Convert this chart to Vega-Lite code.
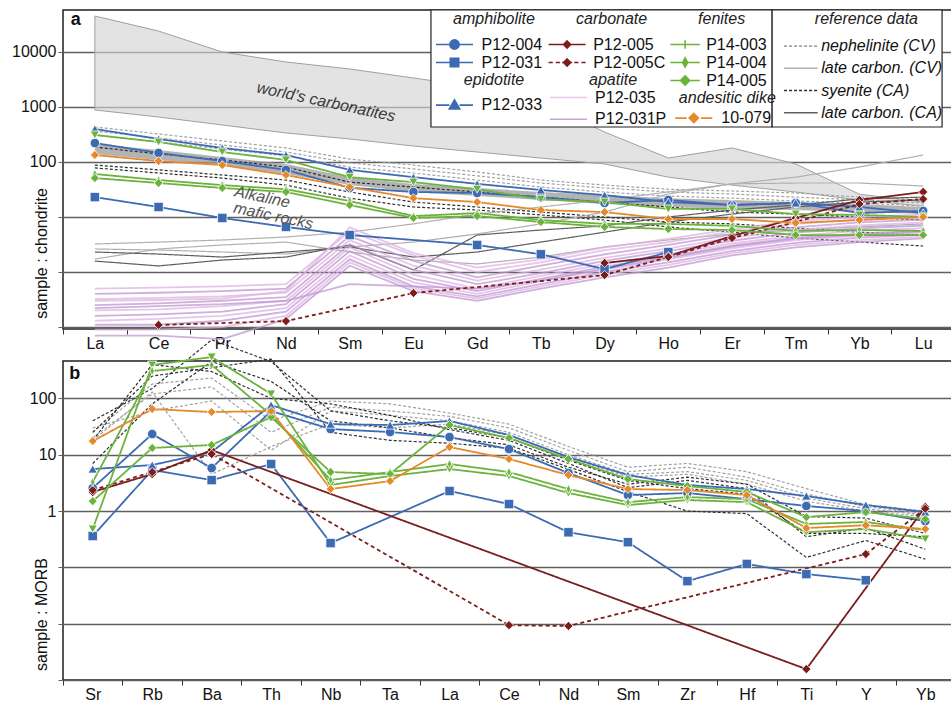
{
"$schema":"https://vega.github.io/schema/vega-lite/v6.json",
"background":"white",
"padding":{"left":10,"top":8,"right":0,"bottom":0},
"spacing":32,
"bounds":"flush",
"config":{
 "font":"Liberation Sans",
 "view":{"stroke":"#1e1e1e","strokeWidth":1.5},
 "axis":{"domain":false,"labelFont":"Liberation Sans","labelFontSize":16,"labelColor":"#111","titleFont":"Liberation Sans","titleFontSize":16,"titleFontWeight":"normal","titleColor":"#111"},
 "legend":{"labelFont":"Liberation Sans","labelFontSize":16,"labelColor":"#111","titleFont":"Liberation Sans","titleFontSize":16,"titleFontStyle":"italic","titleFontWeight":"normal","titleColor":"#222","padding":0,"orient":"none","direction":"vertical","titleAnchor":"middle","symbolSize":283,"rowPadding":0,"symbolStrokeWidth":1.6,"symbolOpacity":1}
},
"datasets":{
"carb":[{"e":"La","v":45100,"v2":882},{"e":"Ce","v":24000,"v2":658},{"e":"Pr","v":10000,"v2":471},{"e":"Nd","v":6580,"v2":337},{"e":"Sm","v":4910,"v2":262},{"e":"Eu","v":3370,"v2":195},{"e":"Gd","v":2310,"v2":152},{"e":"Tb","v":1233,"v2":118},{"e":"Dy","v":351,"v2":92},{"e":"Ho","v":118,"v2":53},{"e":"Er","v":180,"v2":38},{"e":"Tm","v":92,"v2":28.5},{"e":"Yb","v":26,"v2":20.4},{"e":"Lu","v":18.7,"v2":15.8}],
"bandA":[{"e":"La","v":212,"v2":140},{"e":"Ce","v":165,"v2":109},{"e":"Pr","v":123,"v2":88},{"e":"Nd","v":92,"v2":60.5},{"e":"Sm","v":53,"v2":38},{"e":"Eu","v":40,"v2":28.5},{"e":"Gd","v":33.7,"v2":24},{"e":"Tb","v":28.5,"v2":20.4},{"e":"Dy","v":25,"v2":17.2},{"e":"Ho","v":22,"v2":15.2},{"e":"Er","v":20.4,"v2":14},{"e":"Tm","v":18.7,"v2":13.4},{"e":"Yb","v":17.2,"v2":12.3},{"e":"Lu","v":15.2,"v2":11.3}],
"refA":[
{"s":"N1","t":"nep","e":"La","v":433},{"s":"N1","t":"nep","e":"Ce","v":323},{"s":"N1","t":"nep","e":"Pr","v":241},{"s":"N1","t":"nep","e":"Nd","v":180},{"s":"N1","t":"nep","e":"Sm","v":113},{"s":"N1","t":"nep","e":"Eu","v":88},{"s":"N1","t":"nep","e":"Gd","v":66},{"s":"N1","t":"nep","e":"Tb","v":47},{"s":"N1","t":"nep","e":"Dy","v":38},{"s":"N1","t":"nep","e":"Ho","v":32},{"s":"N1","t":"nep","e":"Er","v":29.7},{"s":"N1","t":"nep","e":"Tm","v":27.3},{"s":"N1","t":"nep","e":"Yb","v":23},{"s":"N1","t":"nep","e":"Lu","v":20.4},
{"s":"N2","t":"nep","e":"La","v":366},{"s":"N2","t":"nep","e":"Ce","v":273},{"s":"N2","t":"nep","e":"Pr","v":204},{"s":"N2","t":"nep","e":"Nd","v":152},{"s":"N2","t":"nep","e":"Sm","v":96},{"s":"N2","t":"nep","e":"Eu","v":75},{"s":"N2","t":"nep","e":"Gd","v":56},{"s":"N2","t":"nep","e":"Tb","v":41.5},{"s":"N2","t":"nep","e":"Dy","v":33.7},{"s":"N2","t":"nep","e":"Ho","v":28.5},{"s":"N2","t":"nep","e":"Er","v":26.2},{"s":"N2","t":"nep","e":"Tm","v":23},{"s":"N2","t":"nep","e":"Yb","v":20.4},{"s":"N2","t":"nep","e":"Lu","v":18},
{"s":"N3","t":"nep","e":"La","v":310},{"s":"N3","t":"nep","e":"Ce","v":231},{"s":"N3","t":"nep","e":"Pr","v":172},{"s":"N3","t":"nep","e":"Nd","v":129},{"s":"N3","t":"nep","e":"Sm","v":81},{"s":"N3","t":"nep","e":"Eu","v":63},{"s":"N3","t":"nep","e":"Gd","v":47},{"s":"N3","t":"nep","e":"Tb","v":35},{"s":"N3","t":"nep","e":"Dy","v":28.5},{"s":"N3","t":"nep","e":"Ho","v":24},{"s":"N3","t":"nep","e":"Er","v":22},{"s":"N3","t":"nep","e":"Tm","v":19.5},{"s":"N3","t":"nep","e":"Yb","v":18},{"s":"N3","t":"nep","e":"Lu","v":15.8},
{"s":"S1","t":"sye","e":"La","v":88},{"s":"S1","t":"sye","e":"Ce","v":72},{"s":"S1","t":"sye","e":"Pr","v":58},{"s":"S1","t":"sye","e":"Nd","v":47},{"s":"S1","t":"sye","e":"Sm","v":28.5},{"s":"S1","t":"sye","e":"Eu","v":18.7},{"s":"S1","t":"sye","e":"Gd","v":15.2},{"s":"S1","t":"sye","e":"Tb","v":12.3},{"s":"S1","t":"sye","e":"Dy","v":10},{"s":"S1","t":"sye","e":"Ho","v":8.1},{"s":"S1","t":"sye","e":"Er","v":7.5},{"s":"S1","t":"sye","e":"Tm","v":6.3},{"s":"S1","t":"sye","e":"Yb","v":5.3},{"s":"S1","t":"sye","e":"Lu","v":4.7},
{"s":"S2","t":"sye","e":"La","v":78},{"s":"S2","t":"sye","e":"Ce","v":63},{"s":"S2","t":"sye","e":"Pr","v":51},{"s":"S2","t":"sye","e":"Nd","v":38},{"s":"S2","t":"sye","e":"Sm","v":22},{"s":"S2","t":"sye","e":"Eu","v":15.2},{"s":"S2","t":"sye","e":"Gd","v":13.4},{"s":"S2","t":"sye","e":"Tb","v":10.9},{"s":"S2","t":"sye","e":"Dy","v":8.8},{"s":"S2","t":"sye","e":"Ho","v":6.6},{"s":"S2","t":"sye","e":"Er","v":5.3},{"s":"S2","t":"sye","e":"Tm","v":4.15},{"s":"S2","t":"sye","e":"Yb","v":3.5},{"s":"S2","t":"sye","e":"Lu","v":2.97},
{"s":"S3","t":"sye","e":"La","v":187},{"s":"S3","t":"sye","e":"Ce","v":140},{"s":"S3","t":"sye","e":"Pr","v":109},{"s":"S3","t":"sye","e":"Nd","v":81},{"s":"S3","t":"sye","e":"Sm","v":43},{"s":"S3","t":"sye","e":"Eu","v":35},{"s":"S3","t":"sye","e":"Gd","v":28.5},{"s":"S3","t":"sye","e":"Tb","v":23},{"s":"S3","t":"sye","e":"Dy","v":18.7},{"s":"S3","t":"sye","e":"Ho","v":15.2},{"s":"S3","t":"sye","e":"Er","v":12.3},{"s":"S3","t":"sye","e":"Tm","v":11.3},{"s":"S3","t":"sye","e":"Yb","v":10},{"s":"S3","t":"sye","e":"Lu","v":8.8},
{"s":"C1","t":"lcv","e":"La","v":3.23},{"s":"C1","t":"lcv","e":"Ce","v":3.5},{"s":"C1","t":"lcv","e":"Pr","v":3.82},{"s":"C1","t":"lcv","e":"Nd","v":4.33},{"s":"C1","t":"lcv","e":"Sm","v":5.3},{"s":"C1","t":"lcv","e":"Eu","v":7.5},{"s":"C1","t":"lcv","e":"Gd","v":11.3},{"s":"C1","t":"lcv","e":"Tb","v":15.2},{"s":"C1","t":"lcv","e":"Dy","v":20.4},{"s":"C1","t":"lcv","e":"Ho","v":28.5},{"s":"C1","t":"lcv","e":"Er","v":40},{"s":"C1","t":"lcv","e":"Tm","v":53},{"s":"C1","t":"lcv","e":"Yb","v":81},{"s":"C1","t":"lcv","e":"Lu","v":134},
{"s":"C2","t":"lcv","e":"La","v":2.62},{"s":"C2","t":"lcv","e":"Ce","v":2.51},{"s":"C2","t":"lcv","e":"Pr","v":2.31},{"s":"C2","t":"lcv","e":"Nd","v":2.12},{"s":"C2","t":"lcv","e":"Sm","v":2.85},{"s":"C2","t":"lcv","e":"Eu","v":3.5},{"s":"C2","t":"lcv","e":"Gd","v":4.91},{"s":"C2","t":"lcv","e":"Tb","v":7.5},{"s":"C2","t":"lcv","e":"Dy","v":12.3},{"s":"C2","t":"lcv","e":"Ho","v":26.2},{"s":"C2","t":"lcv","e":"Er","v":40},{"s":"C2","t":"lcv","e":"Tm","v":41.5},{"s":"C2","t":"lcv","e":"Yb","v":41.5},{"s":"C2","t":"lcv","e":"Lu","v":36.6},
{"s":"C3","t":"lcv","e":"La","v":1.72},{"s":"C3","t":"lcv","e":"Ce","v":2.62},{"s":"C3","t":"lcv","e":"Pr","v":3.1},{"s":"C3","t":"lcv","e":"Nd","v":3.5},{"s":"C3","t":"lcv","e":"Sm","v":2.31},{"s":"C3","t":"lcv","e":"Eu","v":1.65},{"s":"C3","t":"lcv","e":"Gd","v":1.4},{"s":"C3","t":"lcv","e":"Tb","v":1.87},{"s":"C3","t":"lcv","e":"Dy","v":2.85},{"s":"C3","t":"lcv","e":"Ho","v":3.82},{"s":"C3","t":"lcv","e":"Er","v":4.91},{"s":"C3","t":"lcv","e":"Tm","v":5.8},{"s":"C3","t":"lcv","e":"Yb","v":6.6},{"s":"C3","t":"lcv","e":"Lu","v":7.5},
{"s":"K1","t":"lca","e":"La","v":1.58},{"s":"K1","t":"lca","e":"Ce","v":1.29},{"s":"K1","t":"lca","e":"Pr","v":1.65},{"s":"K1","t":"lca","e":"Nd","v":1.87},{"s":"K1","t":"lca","e":"Sm","v":3.1},{"s":"K1","t":"lca","e":"Eu","v":1.09},{"s":"K1","t":"lca","e":"Gd","v":4.7},{"s":"K1","t":"lca","e":"Tb","v":5.8},{"s":"K1","t":"lca","e":"Dy","v":6.9},{"s":"K1","t":"lca","e":"Ho","v":10},{"s":"K1","t":"lca","e":"Er","v":13.4},{"s":"K1","t":"lca","e":"Tm","v":16.5},{"s":"K1","t":"lca","e":"Yb","v":21.3},{"s":"K1","t":"lca","e":"Lu","v":23},
{"s":"K2","t":"lca","e":"La","v":2.31},{"s":"K2","t":"lca","e":"Ce","v":2.12},{"s":"K2","t":"lca","e":"Pr","v":1.87},{"s":"K2","t":"lca","e":"Nd","v":2.31},{"s":"K2","t":"lca","e":"Sm","v":2.85},{"s":"K2","t":"lca","e":"Eu","v":1.87},{"s":"K2","t":"lca","e":"Gd","v":2.31},{"s":"K2","t":"lca","e":"Tb","v":3.5},{"s":"K2","t":"lca","e":"Dy","v":5.3},{"s":"K2","t":"lca","e":"Ho","v":8.1},{"s":"K2","t":"lca","e":"Er","v":11.3},{"s":"K2","t":"lca","e":"Tm","v":15.2},{"s":"K2","t":"lca","e":"Yb","v":18.7},{"s":"K2","t":"lca","e":"Lu","v":20.4}
],
"apa":[
{"s":"A1","t":"P12-035","e":"La","v":0.5},{"s":"A1","t":"P12-035","e":"Ce","v":0.52},{"s":"A1","t":"P12-035","e":"Pr","v":0.55},{"s":"A1","t":"P12-035","e":"Nd","v":0.6},{"s":"A1","t":"P12-035","e":"Sm","v":5.5},{"s":"A1","t":"P12-035","e":"Eu","v":2.0},{"s":"A1","t":"P12-035","e":"Gd","v":1.0},{"s":"A1","t":"P12-035","e":"Tb","v":1.5},{"s":"A1","t":"P12-035","e":"Dy","v":2.5},{"s":"A1","t":"P12-035","e":"Ho","v":3.5},{"s":"A1","t":"P12-035","e":"Er","v":5.5},{"s":"A1","t":"P12-035","e":"Tm","v":7.5},{"s":"A1","t":"P12-035","e":"Yb","v":9},{"s":"A1","t":"P12-035","e":"Lu","v":10},
{"s":"A2","t":"P12-031P","e":"La","v":0.4},{"s":"A2","t":"P12-031P","e":"Ce","v":0.42},{"s":"A2","t":"P12-031P","e":"Pr","v":0.45},{"s":"A2","t":"P12-031P","e":"Nd","v":0.5},{"s":"A2","t":"P12-031P","e":"Sm","v":4.5},{"s":"A2","t":"P12-031P","e":"Eu","v":1.6},{"s":"A2","t":"P12-031P","e":"Gd","v":0.8},{"s":"A2","t":"P12-031P","e":"Tb","v":1.3},{"s":"A2","t":"P12-031P","e":"Dy","v":2.1},{"s":"A2","t":"P12-031P","e":"Ho","v":3.1},{"s":"A2","t":"P12-031P","e":"Er","v":4.8},{"s":"A2","t":"P12-031P","e":"Tm","v":6.5},{"s":"A2","t":"P12-031P","e":"Yb","v":8},{"s":"A2","t":"P12-031P","e":"Lu","v":9},
{"s":"A3","t":"P12-035","e":"La","v":0.32},{"s":"A3","t":"P12-035","e":"Ce","v":0.34},{"s":"A3","t":"P12-035","e":"Pr","v":0.36},{"s":"A3","t":"P12-035","e":"Nd","v":0.42},{"s":"A3","t":"P12-035","e":"Sm","v":3.8},{"s":"A3","t":"P12-035","e":"Eu","v":1.3},{"s":"A3","t":"P12-035","e":"Gd","v":0.7},{"s":"A3","t":"P12-035","e":"Tb","v":1.1},{"s":"A3","t":"P12-035","e":"Dy","v":1.8},{"s":"A3","t":"P12-035","e":"Ho","v":2.7},{"s":"A3","t":"P12-035","e":"Er","v":4.2},{"s":"A3","t":"P12-035","e":"Tm","v":5.8},{"s":"A3","t":"P12-035","e":"Yb","v":7},{"s":"A3","t":"P12-035","e":"Lu","v":8},
{"s":"A4","t":"P12-031P","e":"La","v":0.25},{"s":"A4","t":"P12-031P","e":"Ce","v":0.27},{"s":"A4","t":"P12-031P","e":"Pr","v":0.3},{"s":"A4","t":"P12-031P","e":"Nd","v":0.35},{"s":"A4","t":"P12-031P","e":"Sm","v":3.2},{"s":"A4","t":"P12-031P","e":"Eu","v":1.1},{"s":"A4","t":"P12-031P","e":"Gd","v":0.6},{"s":"A4","t":"P12-031P","e":"Tb","v":0.95},{"s":"A4","t":"P12-031P","e":"Dy","v":1.6},{"s":"A4","t":"P12-031P","e":"Ho","v":2.4},{"s":"A4","t":"P12-031P","e":"Er","v":3.7},{"s":"A4","t":"P12-031P","e":"Tm","v":5.2},{"s":"A4","t":"P12-031P","e":"Yb","v":6.2},{"s":"A4","t":"P12-031P","e":"Lu","v":7},
{"s":"A5","t":"P12-035","e":"La","v":0.2},{"s":"A5","t":"P12-035","e":"Ce","v":0.21},{"s":"A5","t":"P12-035","e":"Pr","v":0.24},{"s":"A5","t":"P12-035","e":"Nd","v":0.3},{"s":"A5","t":"P12-035","e":"Sm","v":2.8},{"s":"A5","t":"P12-035","e":"Eu","v":0.9},{"s":"A5","t":"P12-035","e":"Gd","v":0.5},{"s":"A5","t":"P12-035","e":"Tb","v":0.85},{"s":"A5","t":"P12-035","e":"Dy","v":1.4},{"s":"A5","t":"P12-035","e":"Ho","v":2.1},{"s":"A5","t":"P12-035","e":"Er","v":3.3},{"s":"A5","t":"P12-035","e":"Tm","v":4.6},{"s":"A5","t":"P12-035","e":"Yb","v":5.6},{"s":"A5","t":"P12-035","e":"Lu","v":6.3},
{"s":"A6","t":"P12-031P","e":"La","v":0.16},{"s":"A6","t":"P12-031P","e":"Ce","v":0.17},{"s":"A6","t":"P12-031P","e":"Pr","v":0.19},{"s":"A6","t":"P12-031P","e":"Nd","v":0.26},{"s":"A6","t":"P12-031P","e":"Sm","v":2.4},{"s":"A6","t":"P12-031P","e":"Eu","v":0.75},{"s":"A6","t":"P12-031P","e":"Gd","v":0.45},{"s":"A6","t":"P12-031P","e":"Tb","v":0.75},{"s":"A6","t":"P12-031P","e":"Dy","v":1.25},{"s":"A6","t":"P12-031P","e":"Ho","v":1.9},{"s":"A6","t":"P12-031P","e":"Er","v":3.0},{"s":"A6","t":"P12-031P","e":"Tm","v":4.2},{"s":"A6","t":"P12-031P","e":"Yb","v":5},{"s":"A6","t":"P12-031P","e":"Lu","v":5.6},
{"s":"A7","t":"P12-035","e":"La","v":0.13},{"s":"A7","t":"P12-035","e":"Ce","v":0.14},{"s":"A7","t":"P12-035","e":"Pr","v":0.16},{"s":"A7","t":"P12-035","e":"Nd","v":0.22},{"s":"A7","t":"P12-035","e":"Sm","v":2.0},{"s":"A7","t":"P12-035","e":"Eu","v":0.65},{"s":"A7","t":"P12-035","e":"Gd","v":0.4},{"s":"A7","t":"P12-035","e":"Tb","v":0.68},{"s":"A7","t":"P12-035","e":"Dy","v":1.1},{"s":"A7","t":"P12-035","e":"Ho","v":1.7},{"s":"A7","t":"P12-035","e":"Er","v":2.7},{"s":"A7","t":"P12-035","e":"Tm","v":3.8},{"s":"A7","t":"P12-035","e":"Yb","v":4.6},{"s":"A7","t":"P12-035","e":"Lu","v":5.2},
{"s":"A8","t":"P12-031P","e":"La","v":0.11},{"s":"A8","t":"P12-031P","e":"Ce","v":0.11},{"s":"A8","t":"P12-031P","e":"Pr","v":0.13},{"s":"A8","t":"P12-031P","e":"Nd","v":0.19},{"s":"A8","t":"P12-031P","e":"Sm","v":1.7},{"s":"A8","t":"P12-031P","e":"Eu","v":0.55},{"s":"A8","t":"P12-031P","e":"Gd","v":0.36},{"s":"A8","t":"P12-031P","e":"Tb","v":0.6},{"s":"A8","t":"P12-031P","e":"Dy","v":1.0},{"s":"A8","t":"P12-031P","e":"Ho","v":1.5},{"s":"A8","t":"P12-031P","e":"Er","v":2.4},{"s":"A8","t":"P12-031P","e":"Tm","v":3.4},{"s":"A8","t":"P12-031P","e":"Yb","v":4.2},{"s":"A8","t":"P12-031P","e":"Lu","v":4.8},
{"s":"A9","t":"P12-035","e":"La","v":0.09},{"s":"A9","t":"P12-035","e":"Ce","v":0.09},{"s":"A9","t":"P12-035","e":"Pr","v":0.1},{"s":"A9","t":"P12-035","e":"Nd","v":0.16},{"s":"A9","t":"P12-035","e":"Sm","v":1.5},{"s":"A9","t":"P12-035","e":"Eu","v":0.5},{"s":"A9","t":"P12-035","e":"Gd","v":0.33},{"s":"A9","t":"P12-035","e":"Tb","v":0.55},{"s":"A9","t":"P12-035","e":"Dy","v":0.9},{"s":"A9","t":"P12-035","e":"Ho","v":1.35},{"s":"A9","t":"P12-035","e":"Er","v":2.2},{"s":"A9","t":"P12-035","e":"Tm","v":3.1},{"s":"A9","t":"P12-035","e":"Yb","v":3.8},{"s":"A9","t":"P12-035","e":"Lu","v":4.4},
{"s":"A10","t":"P12-031P","e":"La","v":0.07},{"s":"A10","t":"P12-031P","e":"Ce","v":0.07},{"s":"A10","t":"P12-031P","e":"Pr","v":0.06},{"s":"A10","t":"P12-031P","e":"Nd","v":0.14},{"s":"A10","t":"P12-031P","e":"Sm","v":1.3},{"s":"A10","t":"P12-031P","e":"Eu","v":0.45},{"s":"A10","t":"P12-031P","e":"Gd","v":0.3},{"s":"A10","t":"P12-031P","e":"Tb","v":0.5},{"s":"A10","t":"P12-031P","e":"Dy","v":0.8},{"s":"A10","t":"P12-031P","e":"Ho","v":1.2},{"s":"A10","t":"P12-031P","e":"Er","v":2.0},{"s":"A10","t":"P12-031P","e":"Tm","v":2.8},{"s":"A10","t":"P12-031P","e":"Yb","v":3.5},{"s":"A10","t":"P12-031P","e":"Lu","v":4.1},
{"s":"A11","t":"P12-035","e":"La","v":0.3},{"s":"A11","t":"P12-035","e":"Ce","v":0.31},{"s":"A11","t":"P12-035","e":"Pr","v":0.33},{"s":"A11","t":"P12-035","e":"Nd","v":0.45},{"s":"A11","t":"P12-035","e":"Sm","v":6.5},{"s":"A11","t":"P12-035","e":"Eu","v":2.2},{"s":"A11","t":"P12-035","e":"Gd","v":1.2},{"s":"A11","t":"P12-035","e":"Tb","v":1.7},{"s":"A11","t":"P12-035","e":"Dy","v":2.8},{"s":"A11","t":"P12-035","e":"Ho","v":4},{"s":"A11","t":"P12-035","e":"Er","v":6},{"s":"A11","t":"P12-035","e":"Tm","v":8.5},{"s":"A11","t":"P12-035","e":"Yb","v":10},{"s":"A11","t":"P12-035","e":"Lu","v":11},
{"s":"A12","t":"P12-031P","e":"La","v":0.22},{"s":"A12","t":"P12-031P","e":"Ce","v":0.24},{"s":"A12","t":"P12-031P","e":"Pr","v":0.26},{"s":"A12","t":"P12-031P","e":"Nd","v":0.3},{"s":"A12","t":"P12-031P","e":"Sm","v":0.6},{"s":"A12","t":"P12-031P","e":"Eu","v":0.55},{"s":"A12","t":"P12-031P","e":"Gd","v":0.5},{"s":"A12","t":"P12-031P","e":"Tb","v":0.7},{"s":"A12","t":"P12-031P","e":"Dy","v":1.15},{"s":"A12","t":"P12-031P","e":"Ho","v":1.8},{"s":"A12","t":"P12-031P","e":"Er","v":2.9},{"s":"A12","t":"P12-031P","e":"Tm","v":4.0},{"s":"A12","t":"P12-031P","e":"Yb","v":4.8},{"s":"A12","t":"P12-031P","e":"Lu","v":5.5}
],
"smpA":[
{"s":"P12-004","e":"La","v":221},{"s":"P12-004","e":"Ce","v":146},{"s":"P12-004","e":"Pr","v":104},{"s":"P12-004","e":"Nd","v":72},{"s":"P12-004","e":"Sm","v":34},{"s":"P12-004","e":"Eu","v":28.5},{"s":"P12-004","e":"Gd","v":27.3},{"s":"P12-004","e":"Tb","v":23},{"s":"P12-004","e":"Dy","v":18},{"s":"P12-004","e":"Ho","v":20.4},{"s":"P12-004","e":"Er","v":16.5},{"s":"P12-004","e":"Tm","v":18},{"s":"P12-004","e":"Yb","v":11.8},{"s":"P12-004","e":"Lu","v":12.9},
{"s":"P12-031","e":"La","v":23},{"s":"P12-031","e":"Ce","v":15.2},{"s":"P12-031","e":"Pr","v":9.6},{"s":"P12-031","e":"Nd","v":6.6},{"s":"P12-031","e":"Sm","v":4.7},{"s":"P12-031","e":"Gd","v":3.1},{"s":"P12-031","e":"Tb","v":2.1},{"s":"P12-031","e":"Dy","v":1.13},{"s":"P12-031","e":"Ho","v":2.3},
{"s":"P12-033","e":"La","v":398},{"s":"P12-033","e":"Ce","v":262},{"s":"P12-033","e":"Pr","v":180},{"s":"P12-033","e":"Nd","v":134},{"s":"P12-033","e":"Sm","v":72},{"s":"P12-033","e":"Eu","v":53},{"s":"P12-033","e":"Gd","v":40},{"s":"P12-033","e":"Tb","v":31},{"s":"P12-033","e":"Dy","v":25},{"s":"P12-033","e":"Ho","v":18.7},{"s":"P12-033","e":"Er","v":16.5},{"s":"P12-033","e":"Tm","v":18},{"s":"P12-033","e":"Yb","v":15.2},{"s":"P12-033","e":"Lu","v":11.8},
{"s":"P12-005","e":"Dy","v":1.46},{"s":"P12-005","e":"Ho","v":1.95},{"s":"P12-005","e":"Er","v":4.5},{"s":"P12-005","e":"Tm","v":9.6},{"s":"P12-005","e":"Yb","v":20.4},{"s":"P12-005","e":"Lu","v":28.5},
{"s":"P12-005C","e":"Ce","v":0.109},{"s":"P12-005C","e":"Nd","v":0.128},{"s":"P12-005C","e":"Eu","v":0.415},{"s":"P12-005C","e":"Dy","v":0.88},{"s":"P12-005C","e":"Ho","v":1.87},{"s":"P12-005C","e":"Er","v":4.15},{"s":"P12-005C","e":"Tm","v":8.1},{"s":"P12-005C","e":"Yb","v":17.2},{"s":"P12-005C","e":"Lu","v":21.2},
{"s":"P14-003","e":"La","v":310},{"s":"P14-003","e":"Ce","v":231},{"s":"P14-003","e":"Pr","v":152},{"s":"P14-003","e":"Nd","v":109},{"s":"P14-003","e":"Sm","v":53},{"s":"P14-003","e":"Eu","v":43},{"s":"P14-003","e":"Gd","v":32},{"s":"P14-003","e":"Tb","v":21},{"s":"P14-003","e":"Dy","v":18.7},{"s":"P14-003","e":"Ho","v":14},{"s":"P14-003","e":"Er","v":14},{"s":"P14-003","e":"Tm","v":11.3},{"s":"P14-003","e":"Yb","v":10.9},{"s":"P14-003","e":"Lu","v":10},
{"s":"P14-004","e":"La","v":60.5},{"s":"P14-004","e":"Ce","v":47},{"s":"P14-004","e":"Pr","v":38},{"s":"P14-004","e":"Nd","v":32},{"s":"P14-004","e":"Sm","v":19.5},{"s":"P14-004","e":"Eu","v":10.4},{"s":"P14-004","e":"Gd","v":11.8},{"s":"P14-004","e":"Tb","v":8.8},{"s":"P14-004","e":"Dy","v":7.5},{"s":"P14-004","e":"Ho","v":7.5},{"s":"P14-004","e":"Er","v":6.9},{"s":"P14-004","e":"Tm","v":5.6},{"s":"P14-004","e":"Yb","v":5.8},{"s":"P14-004","e":"Lu","v":5.6},
{"s":"P14-005","e":"La","v":51},{"s":"P14-005","e":"Ce","v":41.5},{"s":"P14-005","e":"Pr","v":33.7},{"s":"P14-005","e":"Nd","v":28.5},{"s":"P14-005","e":"Sm","v":16.5},{"s":"P14-005","e":"Eu","v":9.6},{"s":"P14-005","e":"Gd","v":10.4},{"s":"P14-005","e":"Tb","v":8.1},{"s":"P14-005","e":"Dy","v":6.6},{"s":"P14-005","e":"Ho","v":6.05},{"s":"P14-005","e":"Er","v":5.8},{"s":"P14-005","e":"Tm","v":4.7},{"s":"P14-005","e":"Yb","v":4.7},{"s":"P14-005","e":"Lu","v":4.7},
{"s":"10-079","e":"La","v":134},{"s":"10-079","e":"Ce","v":104},{"s":"10-079","e":"Pr","v":88},{"s":"10-079","e":"Nd","v":58},{"s":"10-079","e":"Sm","v":35},{"s":"10-079","e":"Eu","v":22},{"s":"10-079","e":"Gd","v":18.7},{"s":"10-079","e":"Tb","v":13.4},{"s":"10-079","e":"Dy","v":12.3},{"s":"10-079","e":"Ho","v":9.2},{"s":"10-079","e":"Er","v":9.2},{"s":"10-079","e":"Tm","v":7.8},{"s":"10-079","e":"Yb","v":8.8},{"s":"10-079","e":"Lu","v":10}
],
"refB":[
{"s":"NB1","t":"nep","e":"Sr","v":25},{"s":"NB1","t":"nep","e":"Rb","v":180},{"s":"NB1","t":"nep","e":"Ba","v":230},{"s":"NB1","t":"nep","e":"Th","v":40},{"s":"NB1","t":"nep","e":"Nb","v":90},{"s":"NB1","t":"nep","e":"Ta","v":80},{"s":"NB1","t":"nep","e":"La","v":55},{"s":"NB1","t":"nep","e":"Ce","v":35},{"s":"NB1","t":"nep","e":"Nd","v":14},{"s":"NB1","t":"nep","e":"Sm","v":6},{"s":"NB1","t":"nep","e":"Zr","v":7},{"s":"NB1","t":"nep","e":"Hf","v":5},{"s":"NB1","t":"nep","e":"Ti","v":2.5},{"s":"NB1","t":"nep","e":"Y","v":1.3},{"s":"NB1","t":"nep","e":"Yb","v":1.0},
{"s":"NB2","t":"nep","e":"Sr","v":20},{"s":"NB2","t":"nep","e":"Rb","v":120},{"s":"NB2","t":"nep","e":"Ba","v":160},{"s":"NB2","t":"nep","e":"Th","v":25},{"s":"NB2","t":"nep","e":"Nb","v":70},{"s":"NB2","t":"nep","e":"Ta","v":60},{"s":"NB2","t":"nep","e":"La","v":48},{"s":"NB2","t":"nep","e":"Ce","v":30},{"s":"NB2","t":"nep","e":"Nd","v":12},{"s":"NB2","t":"nep","e":"Sm","v":5},{"s":"NB2","t":"nep","e":"Zr","v":6},{"s":"NB2","t":"nep","e":"Hf","v":4},{"s":"NB2","t":"nep","e":"Ti","v":2.0},{"s":"NB2","t":"nep","e":"Y","v":1.2},{"s":"NB2","t":"nep","e":"Yb","v":0.9},
{"s":"NB3","t":"nep","e":"Sr","v":30},{"s":"NB3","t":"nep","e":"Rb","v":60},{"s":"NB3","t":"nep","e":"Ba","v":90},{"s":"NB3","t":"nep","e":"Th","v":12},{"s":"NB3","t":"nep","e":"Nb","v":60},{"s":"NB3","t":"nep","e":"Ta","v":50},{"s":"NB3","t":"nep","e":"La","v":40},{"s":"NB3","t":"nep","e":"Ce","v":25},{"s":"NB3","t":"nep","e":"Nd","v":10},{"s":"NB3","t":"nep","e":"Sm","v":4.5},{"s":"NB3","t":"nep","e":"Zr","v":5},{"s":"NB3","t":"nep","e":"Hf","v":3.5},{"s":"NB3","t":"nep","e":"Ti","v":1.7},{"s":"NB3","t":"nep","e":"Y","v":1.1},{"s":"NB3","t":"nep","e":"Yb","v":0.85},
{"s":"NB4","t":"nep","e":"Sr","v":18},{"s":"NB4","t":"nep","e":"Rb","v":130},{"s":"NB4","t":"nep","e":"Ba","v":4.5},{"s":"NB4","t":"nep","e":"Th","v":14},{"s":"NB4","t":"nep","e":"Nb","v":35},{"s":"NB4","t":"nep","e":"Ta","v":30},{"s":"NB4","t":"nep","e":"La","v":35},{"s":"NB4","t":"nep","e":"Ce","v":22},{"s":"NB4","t":"nep","e":"Nd","v":9},{"s":"NB4","t":"nep","e":"Sm","v":4},{"s":"NB4","t":"nep","e":"Zr","v":4.5},{"s":"NB4","t":"nep","e":"Hf","v":3},{"s":"NB4","t":"nep","e":"Ti","v":1.5},{"s":"NB4","t":"nep","e":"Y","v":1.0},{"s":"NB4","t":"nep","e":"Yb","v":0.8},
{"s":"SB1","t":"sye","e":"Sr","v":40},{"s":"SB1","t":"sye","e":"Rb","v":150},{"s":"SB1","t":"sye","e":"Ba","v":1100},{"s":"SB1","t":"sye","e":"Th","v":450},{"s":"SB1","t":"sye","e":"Nb","v":60},{"s":"SB1","t":"sye","e":"Ta","v":40},{"s":"SB1","t":"sye","e":"La","v":30},{"s":"SB1","t":"sye","e":"Ce","v":20},{"s":"SB1","t":"sye","e":"Nd","v":8},{"s":"SB1","t":"sye","e":"Sm","v":3.5},{"s":"SB1","t":"sye","e":"Zr","v":2.5},{"s":"SB1","t":"sye","e":"Hf","v":2},{"s":"SB1","t":"sye","e":"Ti","v":0.4},{"s":"SB1","t":"sye","e":"Y","v":0.4},{"s":"SB1","t":"sye","e":"Yb","v":0.35},
{"s":"SB2","t":"sye","e":"Sr","v":25},{"s":"SB2","t":"sye","e":"Rb","v":250},{"s":"SB2","t":"sye","e":"Ba","v":350},{"s":"SB2","t":"sye","e":"Th","v":500},{"s":"SB2","t":"sye","e":"Nb","v":25},{"s":"SB2","t":"sye","e":"Ta","v":18},{"s":"SB2","t":"sye","e":"La","v":16},{"s":"SB2","t":"sye","e":"Ce","v":13},{"s":"SB2","t":"sye","e":"Nd","v":5.5},{"s":"SB2","t":"sye","e":"Sm","v":2.2},{"s":"SB2","t":"sye","e":"Zr","v":1.0},{"s":"SB2","t":"sye","e":"Hf","v":0.9},{"s":"SB2","t":"sye","e":"Ti","v":0.15},{"s":"SB2","t":"sye","e":"Y","v":0.3},{"s":"SB2","t":"sye","e":"Yb","v":0.14},
{"s":"SB3","t":"sye","e":"Sr","v":7},{"s":"SB3","t":"sye","e":"Rb","v":80},{"s":"SB3","t":"sye","e":"Ba","v":450},{"s":"SB3","t":"sye","e":"Th","v":200},{"s":"SB3","t":"sye","e":"Nb","v":40},{"s":"SB3","t":"sye","e":"Ta","v":30},{"s":"SB3","t":"sye","e":"La","v":20},{"s":"SB3","t":"sye","e":"Ce","v":15},{"s":"SB3","t":"sye","e":"Nd","v":6},{"s":"SB3","t":"sye","e":"Sm","v":3},{"s":"SB3","t":"sye","e":"Zr","v":4},{"s":"SB3","t":"sye","e":"Hf","v":3},{"s":"SB3","t":"sye","e":"Ti","v":0.8},{"s":"SB3","t":"sye","e":"Y","v":0.75},{"s":"SB3","t":"sye","e":"Yb","v":0.4},
{"s":"SB4","t":"sye","e":"Sr","v":18},{"s":"SB4","t":"sye","e":"Rb","v":400},{"s":"SB4","t":"sye","e":"Ba","v":300},{"s":"SB4","t":"sye","e":"Th","v":100},{"s":"SB4","t":"sye","e":"Nb","v":80},{"s":"SB4","t":"sye","e":"Ta","v":50},{"s":"SB4","t":"sye","e":"La","v":28},{"s":"SB4","t":"sye","e":"Ce","v":18},{"s":"SB4","t":"sye","e":"Nd","v":7},{"s":"SB4","t":"sye","e":"Sm","v":2.6},{"s":"SB4","t":"sye","e":"Zr","v":3.5},{"s":"SB4","t":"sye","e":"Hf","v":2.5},{"s":"SB4","t":"sye","e":"Ti","v":0.35},{"s":"SB4","t":"sye","e":"Y","v":0.5},{"s":"SB4","t":"sye","e":"Yb","v":0.21}
],
"smpB":[
{"s":"P12-004","e":"Sr","v":2.56},{"s":"P12-004","e":"Rb","v":23.3},{"s":"P12-004","e":"Ba","v":5.8},{"s":"P12-004","e":"Th","v":59.7},{"s":"P12-004","e":"Nb","v":28.6},{"s":"P12-004","e":"Ta","v":25.3},{"s":"P12-004","e":"La","v":20.6},{"s":"P12-004","e":"Ce","v":12.6},{"s":"P12-004","e":"Nd","v":4.73},{"s":"P12-004","e":"Sm","v":1.92},{"s":"P12-004","e":"Zr","v":2.09},{"s":"P12-004","e":"Hf","v":1.63},{"s":"P12-004","e":"Ti","v":1.23},{"s":"P12-004","e":"Y","v":1.0},{"s":"P12-004","e":"Yb","v":0.66},
{"s":"P12-031","e":"Sr","v":0.36},{"s":"P12-031","e":"Rb","v":5.35},{"s":"P12-031","e":"Ba","v":3.55},{"s":"P12-031","e":"Th","v":6.84},{"s":"P12-031","e":"Nb","v":0.27},{"s":"P12-031","e":"La","v":2.27},{"s":"P12-031","e":"Ce","v":1.33},{"s":"P12-031","e":"Nd","v":0.42},{"s":"P12-031","e":"Sm","v":0.28},{"s":"P12-031","e":"Zr","v":0.057},{"s":"P12-031","e":"Hf","v":0.115},{"s":"P12-031","e":"Ti","v":0.076},{"s":"P12-031","e":"Y","v":0.059},
{"s":"P12-033","e":"Sr","v":5.57},{"s":"P12-033","e":"Rb","v":6.56},{"s":"P12-033","e":"Ba","v":11.2},{"s":"P12-033","e":"Th","v":76},{"s":"P12-033","e":"Nb","v":35},{"s":"P12-033","e":"Ta","v":33.7},{"s":"P12-033","e":"La","v":39.7},{"s":"P12-033","e":"Ce","v":22.4},{"s":"P12-033","e":"Nd","v":9.1},{"s":"P12-033","e":"Sm","v":4.36},{"s":"P12-033","e":"Zr","v":2.9},{"s":"P12-033","e":"Hf","v":2.46},{"s":"P12-033","e":"Ti","v":1.85},{"s":"P12-033","e":"Y","v":1.28},{"s":"P12-033","e":"Yb","v":0.96},
{"s":"P12-005","e":"Sr","v":2.18},{"s":"P12-005","e":"Rb","v":4.54},{"s":"P12-005","e":"Ba","v":12.1},{"s":"P12-005","e":"Ti","v":0.00156},{"s":"P12-005","e":"Yb","v":1.18},
{"s":"P12-005C","e":"Sr","v":2.36},{"s":"P12-005C","e":"Rb","v":4.93},{"s":"P12-005C","e":"Ba","v":10.3},{"s":"P12-005C","e":"Ce","v":0.0094},{"s":"P12-005C","e":"Nd","v":0.0091},{"s":"P12-005C","e":"Y","v":0.172},{"s":"P12-005C","e":"Yb","v":1.1},
{"s":"P14-003","e":"Sr","v":0.48},{"s":"P14-003","e":"Rb","v":392},{"s":"P14-003","e":"Ba","v":543},{"s":"P14-003","e":"Th","v":120},{"s":"P14-003","e":"Nb","v":2.9},{"s":"P14-003","e":"Ta","v":4.19},{"s":"P14-003","e":"La","v":5.57},{"s":"P14-003","e":"Ce","v":4.19},{"s":"P14-003","e":"Nd","v":2.09},{"s":"P14-003","e":"Sm","v":1.28},{"s":"P14-003","e":"Zr","v":1.57},{"s":"P14-003","e":"Hf","v":1.44},{"s":"P14-003","e":"Ti","v":0.42},{"s":"P14-003","e":"Y","v":0.48},{"s":"P14-003","e":"Yb","v":0.32},
{"s":"P14-004","e":"Sr","v":3.27},{"s":"P14-004","e":"Rb","v":307},{"s":"P14-004","e":"Ba","v":392},{"s":"P14-004","e":"Th","v":50.7},{"s":"P14-004","e":"Nb","v":3.55},{"s":"P14-004","e":"Ta","v":4.93},{"s":"P14-004","e":"La","v":6.84},{"s":"P14-004","e":"Ce","v":4.93},{"s":"P14-004","e":"Nd","v":2.46},{"s":"P14-004","e":"Sm","v":1.44},{"s":"P14-004","e":"Zr","v":1.77},{"s":"P14-004","e":"Hf","v":1.63},{"s":"P14-004","e":"Ti","v":0.59},{"s":"P14-004","e":"Y","v":0.64},{"s":"P14-004","e":"Yb","v":0.46},
{"s":"P14-005","e":"Sr","v":1.5},{"s":"P14-005","e":"Rb","v":13.2},{"s":"P14-005","e":"Ba","v":14.9},{"s":"P14-005","e":"Th","v":46.7},{"s":"P14-005","e":"Nb","v":4.93},{"s":"P14-005","e":"Ta","v":4.54},{"s":"P14-005","e":"La","v":33.7},{"s":"P14-005","e":"Ce","v":19.8},{"s":"P14-005","e":"Nd","v":8.4},{"s":"P14-005","e":"Sm","v":3.7},{"s":"P14-005","e":"Zr","v":2.78},{"s":"P14-005","e":"Hf","v":2.18},{"s":"P14-005","e":"Ti","v":0.78},{"s":"P14-005","e":"Y","v":0.96},{"s":"P14-005","e":"Yb","v":0.72},
{"s":"10-079","e":"Sr","v":17.5},{"s":"10-079","e":"Rb","v":64.8},{"s":"10-079","e":"Ba","v":57.3},{"s":"10-079","e":"Th","v":59.7},{"s":"10-079","e":"Nb","v":2.46},{"s":"10-079","e":"Ta","v":3.41},{"s":"10-079","e":"La","v":13.7},{"s":"10-079","e":"Ce","v":8.4},{"s":"10-079","e":"Nd","v":4.36},{"s":"10-079","e":"Sm","v":2.46},{"s":"10-079","e":"Zr","v":2.36},{"s":"10-079","e":"Hf","v":1.92},{"s":"10-079","e":"Ti","v":0.5},{"s":"10-079","e":"Y","v":0.56},{"s":"10-079","e":"Yb","v":0.48}
]
},
"vconcat":[
{
"width":892,"height":319,
"layer":[
 {"data":{"name":"carb"},"mark":{"type":"area","fill":"#d4d4d4","fillOpacity":0.65,"stroke":"#a0a0a0","strokeWidth":1},"encoding":{
   "x":{"field":"e","type":"nominal","sort":["La","Ce","Pr","Nd","Sm","Eu","Gd","Tb","Dy","Ho","Er","Tm","Yb","Lu"],"scale":{"type":"band","paddingInner":0,"paddingOuter":0},"title":null,"axis":{"title":null,"labelAngle":0,"tickBand":"extent","tickSize":5,"tickColor":"#333","labelPadding":1,"grid":false}},
   "y":{"field":"v","type":"quantitative","scale":{"type":"log","domain":[0.092,58000],"nice":false},"title":"sample : chondrite","axis":{"title":"sample : chondrite","values":[0.1,1,10,100,1000,10000],"labelExpr":"datum.value >= 100 ? format(datum.value, 'd') : ''","grid":true,"gridColor":"#606060","gridWidth":1.3,"tickSize":5,"tickColor":"#606060","labelPadding":2,"titleX":-14,"titleY":243}},
   "y2":{"field":"v2"}}},
 {"data":{"name":"bandA"},"mark":{"type":"area","fill":"#9a9a9a","fillOpacity":0.75},"encoding":{
   "x":{"field":"e","type":"nominal","sort":["La","Ce","Pr","Nd","Sm","Eu","Gd","Tb","Dy","Ho","Er","Tm","Yb","Lu"],"title":null},
   "y":{"field":"v","type":"quantitative","title":"sample : chondrite"},
   "y2":{"field":"v2"}}},
 {"data":{"name":"refA"},"mark":{"type":"line","strokeWidth":1.2},"encoding":{
   "x":{"field":"e","type":"nominal","sort":["La","Ce","Pr","Nd","Sm","Eu","Gd","Tb","Dy","Ho","Er","Tm","Yb","Lu"],"title":null},
   "y":{"field":"v","type":"quantitative","title":"sample : chondrite"},
   "detail":{"field":"s"},"color":{"field":"t","type":"nominal","scale":{"domain":["nep","lcv","sye","lca"],"range":["#a3a3a3","#b0b0b0","#2e2e2e","#5e5e5e"]},"legend":null},"strokeDash":{"field":"t","type":"nominal","scale":{"domain":["nep","lcv","sye","lca"],"range":[[3,2],[1,0],[3,2],[1,0]]},"legend":null}}},
 {"data":{"name":"apa"},"mark":{"type":"line","strokeWidth":1.8,"opacity":0.75},"encoding":{
   "x":{"field":"e","type":"nominal","sort":["La","Ce","Pr","Nd","Sm","Eu","Gd","Tb","Dy","Ho","Er","Tm","Yb","Lu"],"title":null},
   "y":{"field":"v","type":"quantitative","title":"sample : chondrite"},
   "detail":{"field":"s"},"color":{"field":"t","type":"nominal","scale":{"domain":["P12-035","P12-031P"],"range":["#dfb2e3","#bf95d1"]},"legend":null}}},
 {"data":{"name":"smpA"},"mark":{"type":"line","strokeWidth":1.8},"encoding":{
   "x":{"field":"e","type":"nominal","sort":["La","Ce","Pr","Nd","Sm","Eu","Gd","Tb","Dy","Ho","Er","Tm","Yb","Lu"],"title":null},
   "y":{"field":"v","type":"quantitative","title":"sample : chondrite"},
   "color":{"field":"s","type":"nominal","scale":{"domain":["P12-004","P12-031","P12-033","P12-005","P12-005C","P14-003","P14-004","P14-005","10-079"],"range":["#3c6bb3","#3c6bb3","#3c6bb3","#7b1d1d","#7b1d1d","#6cb33e","#6cb33e","#6cb33e","#e5892b"]},"legend":null},"strokeDash":{"field":"s","type":"nominal","scale":{"domain":["P12-004","P12-031","P12-033","P12-005","P12-005C","P14-003","P14-004","P14-005","10-079"],"range":[[1,0],[1,0],[1,0],[1,0],[4,3],[1,0],[1,0],[1,0],[1,0]]},"legend":null}}},
 {"data":{"name":"smpA"},"mark":{"type":"point","filled":true,"opacity":1,"stroke":"white","strokeWidth":0.8},"encoding":{
   "x":{"field":"e","type":"nominal","sort":["La","Ce","Pr","Nd","Sm","Eu","Gd","Tb","Dy","Ho","Er","Tm","Yb","Lu"],"title":null},
   "y":{"field":"v","type":"quantitative","title":"sample : chondrite"},
   "color":{"field":"s","type":"nominal","scale":{"domain":["P12-004","P12-031","P12-033","P12-005","P12-005C","P14-003","P14-004","P14-005","10-079"],"range":["#3c6bb3","#3c6bb3","#3c6bb3","#7b1d1d","#7b1d1d","#6cb33e","#6cb33e","#6cb33e","#e5892b"]},"legend":null},"shape":{"field":"s","type":"nominal","scale":{"domain":["P12-004","P12-031","P12-033","P12-005","P12-005C","P14-003","P14-004","P14-005","10-079"],"range":["circle","square","triangle-up","diamond","diamond","triangle-down","M0,-1L0.5,0L0,1L-0.5,0Z","diamond","diamond"]},"legend":null},"size":{"field":"s","type":"nominal","scale":{"domain":["P12-004","P12-031","P12-033","P12-005","P12-005C","P14-003","P14-004","P14-005","10-079"],"range":[90,80,110,40,40,55,70,90,110]},"legend":null}}},
 {"data":{"values":[{}]},"mark":{"type":"rect","fill":"white","stroke":"#222","strokeWidth":1.2},"encoding":{"x":{"datum":"Eu","bandPosition":0.775},"x2":{"datum":"Tm","bandPosition":0.13},"y":{"datum":58000},"y2":{"datum":433}}},
 {"data":{"values":[{}]},"mark":{"type":"rect","fill":"white","stroke":"#222","strokeWidth":1.2},"encoding":{"x":{"datum":"Tm","bandPosition":0.13},"x2":{"datum":"Lu","bandPosition":0.797},"y":{"datum":58000},"y2":{"datum":433}}},
 {"data":{"values":[{}]},"mark":{"type":"text","text":"world’s carbonatites","angle":12,"fontSize":16,"fontStyle":"italic","color":"#3a3a3a","xOffset":40},"encoding":{"x":{"datum":"Nd"},"y":{"datum":1230}}},
 {"data":{"values":[{}]},"mark":{"type":"text","text":"Alkaline","angle":12,"fontSize":16,"fontStyle":"italic","color":"#555","xOffset":40},"encoding":{"x":{"datum":"Pr"},"y":{"datum":23}}},
 {"data":{"values":[{}]},"mark":{"type":"text","text":"mafic rocks","angle":12,"fontSize":16,"fontStyle":"italic","color":"#555","xOffset":51},"encoding":{"x":{"datum":"Pr"},"y":{"datum":10.4}}},
 {"data":{"values":[{}]},"mark":{"type":"text","text":"a","fontSize":18,"fontWeight":"bold","color":"#111","xOffset":-19},"encoding":{"x":{"datum":"La"},"y":{"datum":38100}}},
 {"data":{"name":"smpA"},"transform":[{"filter":"false"}],"mark":{"type":"point","filled":true,"opacity":1,"stroke":"#3c6bb3","strokeWidth":1.6},"encoding":{
   "color":{"field":"s","type":"nominal","scale":{"domain":["P12-004","P12-031"],"range":["#3c6bb3","#3c6bb3"]},"legend":{"title":"amphibolite","legendX":382,"legendY":1,"titlePadding":8,"labelOffset":17.6}},
   "shape":{"field":"s","type":"nominal","scale":{"domain":["P12-004","P12-031"],"range":["M-2.2,0H-0.55M0.55,0H2.2M-0.55,0A0.55,0.55,0,1,0,0.55,0A0.55,0.55,0,1,0,-0.55,0Z","M-2.2,0H-0.5M0.5,0H2.2M-0.5,-0.5H0.5V0.5H-0.5Z"]},"legend":{"title":"amphibolite","legendX":382,"legendY":1,"titlePadding":8,"labelOffset":17.6}}}},
 {"data":{"name":"smpA"},"transform":[{"filter":"false"}],"mark":{"type":"point","filled":true,"opacity":1,"stroke":"#3c6bb3","strokeWidth":1.6},"encoding":{
   "color":{"field":"s","type":"nominal","scale":{"domain":["P12-033"],"range":["#3c6bb3"]},"legend":{"title":"epidotite","legendX":382,"legendY":62,"titlePadding":7.6,"labelOffset":17.6}},
   "shape":{"field":"s","type":"nominal","scale":{"domain":["P12-033"],"range":["M-2.2,0H-0.6M0.6,0H2.2M0,-0.62L0.62,0.45H-0.62Z"]},"legend":{"title":"epidotite","legendX":382,"legendY":62,"titlePadding":7.6,"labelOffset":17.6}}}},
 {"data":{"name":"smpA"},"transform":[{"filter":"false"}],"mark":{"type":"point","filled":true,"opacity":1,"stroke":"#7b1d1d","strokeWidth":1.6},"encoding":{
   "color":{"field":"s","type":"nominal","scale":{"domain":["P12-005","P12-005C"],"range":["#7b1d1d","#7b1d1d"]},"legend":{"title":"carbonate","legendX":494.6,"legendY":1,"titlePadding":8,"labelOffset":16.6}},
   "shape":{"field":"s","type":"nominal","scale":{"domain":["P12-005","P12-005C"],"range":["M-2.2,0H-0.42M0.42,0H2.2M0,-0.42L0.42,0L0,0.42L-0.42,0Z","M-2.2,0H-1.7M-1.35,0H-0.85M-0.6,0H-0.42M0.42,0H0.6M0.85,0H1.35M1.7,0H2.2M0,-0.42L0.42,0L0,0.42L-0.42,0Z"]},"legend":{"title":"carbonate","legendX":494.6,"legendY":1,"titlePadding":8,"labelOffset":16.6}}}},
 {"data":{"name":"apa"},"transform":[{"filter":"false"}],"mark":{"type":"line","strokeWidth":1.5},"encoding":{
   "color":{"field":"t","type":"nominal","scale":{"domain":["P12-035","P12-031P"],"range":["#ecc6ee","#c9a3d9"]},"legend":{"title":"apatite","legendX":496,"legendY":62,"titlePadding":0,"rowPadding":3.8,"labelOffset":17.1,"symbolType":"M-2.2,0H2.2"}}}},
 {"data":{"name":"smpA"},"transform":[{"filter":"false"}],"mark":{"type":"point","filled":true,"opacity":1,"stroke":"#6cb33e","strokeWidth":1.6},"encoding":{
   "color":{"field":"s","type":"nominal","scale":{"domain":["P14-003","P14-004","P14-005"],"range":["#6cb33e","#6cb33e","#6cb33e"]},"legend":{"title":"fenites","legendX":612.6,"legendY":1,"titlePadding":8,"labelOffset":11.6}},
   "shape":{"field":"s","type":"nominal","scale":{"domain":["P14-003","P14-004","P14-005"],"range":["M-1.75,0H1.75M0,-0.5V0.5","M-1.75,0H-0.3M0.3,0H1.75M0,-0.55L0.3,0L0,0.55L-0.3,0Z","M-1.75,0H-0.55M0.55,0H1.75M0,-0.55L0.55,0L0,0.55L-0.55,0Z"]},"legend":{"title":"fenites","legendX":612.6,"legendY":1,"titlePadding":8,"labelOffset":11.6}}}},
 {"data":{"name":"smpA"},"transform":[{"filter":"false"}],"mark":{"type":"point","filled":true,"opacity":1,"stroke":"#e5892b","strokeWidth":1.6},"encoding":{
   "color":{"field":"s","type":"nominal","scale":{"domain":["10-079"],"range":["#e5892b"]},"legend":{"title":"andesitic dike","legendX":616.3,"legendY":80,"titlePadding":2.6,"labelOffset":18}},
   "shape":{"field":"s","type":"nominal","scale":{"domain":["10-079"],"range":["M-2.2,0H-0.85M0.85,0H2.2M0,-0.55L0.55,0L0,0.55L-0.55,0Z"]},"legend":{"title":"andesitic dike","legendX":616.3,"legendY":80,"titlePadding":2.6,"labelOffset":18}}}},
 {"data":{"name":"refA"},"transform":[{"filter":"false"}],"mark":{"type":"line","strokeWidth":1.3},"encoding":{
   "color":{"field":"t","type":"nominal","scale":{"domain":["nephelinite (CV)","late carbon. (CV)","syenite (CA)","late carbon. (CA)"],"range":["#a3a3a3","#b0b0b0","#2e2e2e","#5e5e5e"]},"legend":{"title":"reference data","legendX":728.4,"legendY":1,"titlePadding":9.6,"rowPadding":4.2,"labelOffset":10.8,"symbolType":"M-2,0H2","labelFontStyle":"italic"}},
   "strokeDash":{"field":"t","type":"nominal","scale":{"domain":["nephelinite (CV)","late carbon. (CV)","syenite (CA)","late carbon. (CA)"],"range":[[3,2],[1,0],[3,2],[1,0]]},"legend":{"title":"reference data","legendX":728.4,"legendY":1,"titlePadding":9.6,"rowPadding":4.2,"labelOffset":10.8,"symbolType":"M-2,0H2","labelFontStyle":"italic"}}}}
],
"resolve":{"scale":{"color":"independent","shape":"independent","strokeDash":"independent","size":"independent"}}
},
{
"width":892,"height":319,
"layer":[
 {"data":{"name":"refB"},"mark":{"type":"line","strokeWidth":1.2},"encoding":{
   "x":{"field":"e","type":"nominal","sort":["Sr","Rb","Ba","Th","Nb","Ta","La","Ce","Nd","Sm","Zr","Hf","Ti","Y","Yb"],"scale":{"type":"band","paddingInner":0,"paddingOuter":0},"title":null,"axis":{"title":null,"labelAngle":0,"tickBand":"extent","tickSize":5,"tickColor":"#333","labelPadding":1,"grid":false}},
   "y":{"field":"v","type":"quantitative","scale":{"type":"log","domain":[0.001,462],"nice":false},"title":"sample : MORB","axis":{"title":"sample : MORB","values":[0.001,0.01,0.1,1,10,100],"labelExpr":"datum.value >= 1 ? format(datum.value, 'd') : ''","grid":true,"gridColor":"#606060","gridWidth":1.3,"tickSize":5,"tickColor":"#606060","labelPadding":2,"titleX":-14,"titleY":253}},
   "detail":{"field":"s"},"color":{"field":"t","type":"nominal","scale":{"domain":["nep","sye"],"range":["#a3a3a3","#2e2e2e"]},"legend":null},"strokeDash":{"field":"t","type":"nominal","scale":{"domain":["nep","sye"],"range":[[3,2],[3,2]]},"legend":null}}},
 {"data":{"name":"smpB"},"mark":{"type":"line","strokeWidth":1.8},"encoding":{
   "x":{"field":"e","type":"nominal","sort":["Sr","Rb","Ba","Th","Nb","Ta","La","Ce","Nd","Sm","Zr","Hf","Ti","Y","Yb"],"title":null},
   "y":{"field":"v","type":"quantitative","title":"sample : MORB"},
   "color":{"field":"s","type":"nominal","scale":{"domain":["P12-004","P12-031","P12-033","P12-005","P12-005C","P14-003","P14-004","P14-005","10-079"],"range":["#3c6bb3","#3c6bb3","#3c6bb3","#7b1d1d","#7b1d1d","#6cb33e","#6cb33e","#6cb33e","#e5892b"]},"legend":null},"strokeDash":{"field":"s","type":"nominal","scale":{"domain":["P12-004","P12-031","P12-033","P12-005","P12-005C","P14-003","P14-004","P14-005","10-079"],"range":[[1,0],[1,0],[1,0],[1,0],[4,3],[1,0],[1,0],[1,0],[1,0]]},"legend":null}}},
 {"data":{"name":"smpB"},"mark":{"type":"point","filled":true,"opacity":1,"stroke":"white","strokeWidth":0.8},"encoding":{
   "x":{"field":"e","type":"nominal","sort":["Sr","Rb","Ba","Th","Nb","Ta","La","Ce","Nd","Sm","Zr","Hf","Ti","Y","Yb"],"title":null},
   "y":{"field":"v","type":"quantitative","title":"sample : MORB"},
   "color":{"field":"s","type":"nominal","scale":{"domain":["P12-004","P12-031","P12-033","P12-005","P12-005C","P14-003","P14-004","P14-005","10-079"],"range":["#3c6bb3","#3c6bb3","#3c6bb3","#7b1d1d","#7b1d1d","#6cb33e","#6cb33e","#6cb33e","#e5892b"]},"legend":null},"shape":{"field":"s","type":"nominal","scale":{"domain":["P12-004","P12-031","P12-033","P12-005","P12-005C","P14-003","P14-004","P14-005","10-079"],"range":["circle","square","triangle-up","diamond","diamond","triangle-down","M0,-1L0.5,0L0,1L-0.5,0Z","diamond","diamond"]},"legend":null},"size":{"field":"s","type":"nominal","scale":{"domain":["P12-004","P12-031","P12-033","P12-005","P12-005C","P14-003","P14-004","P14-005","10-079"],"range":[90,80,110,40,40,55,70,90,110]},"legend":null}}},
 {"data":{"values":[{}]},"mark":{"type":"text","text":"b","fontSize":18,"fontWeight":"bold","color":"#111","xOffset":-18},"encoding":{"x":{"datum":"Sr"},"y":{"datum":272}}}
],
"resolve":{"scale":{"color":"independent","shape":"independent","strokeDash":"independent","size":"independent"}}
}
]
}
